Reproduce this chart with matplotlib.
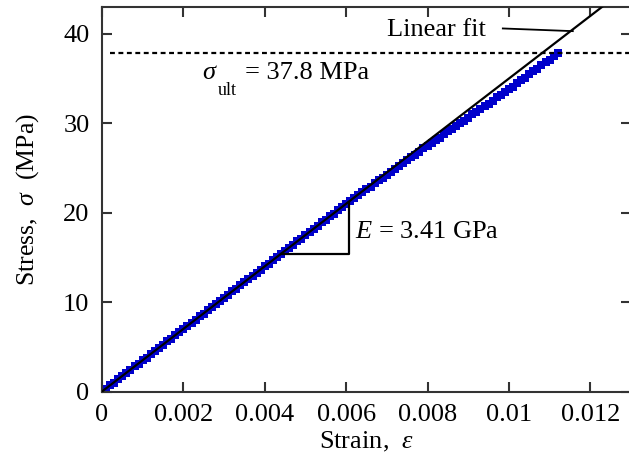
import matplotlib
matplotlib.use("Agg")
import matplotlib.pyplot as plt
import numpy as np

plt.rcParams['font.family'] = ['Liberation Serif', 'DejaVu Serif']
plt.rcParams['mathtext.fontset'] = 'custom'
plt.rcParams['mathtext.rm'] = 'Liberation Serif'
plt.rcParams['mathtext.it'] = 'Liberation Serif:italic'

# measured data (strain, stress in MPa)
strain = [
    0.0000, 0.0001, 0.0002, 0.0003, 0.0004, 0.0005, 0.0006, 0.0007, 0.0008, 0.0009,
    0.0010, 0.0011, 0.0012, 0.0013, 0.0014, 0.0015, 0.0016, 0.0017, 0.0018, 0.0019,
    0.0020, 0.0021, 0.0022, 0.0023, 0.0024, 0.0025, 0.0026, 0.0027, 0.0028, 0.0029,
    0.0030, 0.0031, 0.0032, 0.0033, 0.0034, 0.0035, 0.0036, 0.0037, 0.0038, 0.0039,
    0.0040, 0.0041, 0.0042, 0.0043, 0.0044, 0.0045, 0.0046, 0.0047, 0.0048, 0.0049,
    0.0050, 0.0051, 0.0052, 0.0053, 0.0054, 0.0055, 0.0056, 0.0057, 0.0058, 0.0059,
    0.0060, 0.0061, 0.0062, 0.0063, 0.0064, 0.0065, 0.0066, 0.0067, 0.0068, 0.0069,
    0.0070, 0.0071, 0.0072, 0.0073, 0.0074, 0.0075, 0.0076, 0.0077, 0.0078, 0.0079,
    0.0080, 0.0081, 0.0082, 0.0083, 0.0084, 0.0085, 0.0086, 0.0087, 0.0088, 0.0089,
    0.0090, 0.0091, 0.0092, 0.0093, 0.0094, 0.0095, 0.0096, 0.0097, 0.0098, 0.0099,
    0.0100, 0.0101, 0.0102, 0.0103, 0.0104, 0.0105, 0.0106, 0.0107, 0.0108, 0.0109,
    0.0110, 0.0111, 0.0112,
]
stress = [
    0.0, 0.3, 0.7, 1.0, 1.4, 1.7, 2.1, 2.4, 2.8, 3.1,
    3.5, 3.8, 4.2, 4.5, 4.9, 5.2, 5.6, 5.9, 6.3, 6.6,
    7.0, 7.3, 7.7, 8.0, 8.4, 8.7, 9.1, 9.4, 9.8, 10.1,
    10.5, 10.8, 11.2, 11.5, 11.9, 12.2, 12.6, 12.9, 13.3, 13.6,
    14.0, 14.3, 14.7, 15.0, 15.4, 15.7, 16.1, 16.4, 16.8, 17.1,
    17.5, 17.8, 18.2, 18.5, 18.9, 19.2, 19.6, 19.9, 20.3, 20.6,
    21.0, 21.3, 21.6, 22.0, 22.3, 22.6, 22.9, 23.3, 23.6, 23.9,
    24.2, 24.6, 24.9, 25.2, 25.5, 25.9, 26.2, 26.5, 26.8, 27.2,
    27.5, 27.8, 28.1, 28.4, 28.8, 29.1, 29.4, 29.7, 30.0, 30.3,
    30.6, 31.0, 31.3, 31.6, 31.9, 32.2, 32.5, 32.9, 33.2, 33.5,
    33.8, 34.1, 34.5, 34.8, 35.1, 35.5, 35.8, 36.1, 36.5, 36.8,
    37.1, 37.5, 37.8,
]

fit_strain = [0.0, 0.0126]
fit_stress = [0.0, 44.1]
sigma_ult = 37.8
tri_strain = [0.0044, 0.00606, 0.00606]
tri_stress = [15.4, 15.4, 21.2]
xticks = [0, 0.002, 0.004, 0.006, 0.008, 0.01, 0.012]
xticklabels = ['0', '0.002', '0.004', '0.006', '0.008', '0.01', '0.012']
yticks = [0, 10, 20, 30, 40]

fig = plt.figure(figsize=(6.29, 4.61), dpi=100)
ax = fig.add_axes([102/629, 69.5/461, 529/629, 384.5/461])

ax.plot(strain, stress, 's', color='#0000cc', markersize=6, markeredgewidth=0, zorder=2)
ax.plot(fit_strain, fit_stress, color='black', lw=1.6, zorder=3)
ax.plot([0.0002, 0.013], [sigma_ult, sigma_ult], color='black', lw=1.6,
        dashes=(2.2, 1.6), zorder=3)
ax.plot(tri_strain, tri_stress, color='black', lw=1.6, zorder=3)
ax.plot([0.00985, 0.01157], [40.6, 40.3], color='black', lw=1.3, zorder=3)

fs = 19
ax.text(0.0070, 40.4, 'Linear fit', fontsize=fs, ha='left', va='center')
ax.text(0.00246, 34.95, r'$\sigma$', fontsize=fs, ha='left', va='baseline')
ax.text(0.00284, 33.2, 'ult', fontsize=13, ha='left', va='baseline')
ax.text(0.00351, 34.95, '= 37.8 MPa', fontsize=fs, ha='left', va='baseline')
ax.text(0.00622, 17.8, r'$E$ = 3.41 GPa', fontsize=fs, ha='left', va='center')

ax.set_xlim(0, 0.013)
ax.set_ylim(0, 43)
ax.set_xticks(xticks)
ax.set_xticklabels(xticklabels)
ax.set_yticks(yticks)
ax.tick_params(direction='in', length=7, width=1.5, top=True, right=True,
               labelsize=fs, colors='#333333', labelcolor='black', pad=9)
for s in ax.spines.values():
    s.set_linewidth(1.5)
    s.set_color('#333333')

ax.set_xlabel(r'Strain,  $\varepsilon$', fontsize=fs, labelpad=3)
ax.set_ylabel(r'Stress,  $\sigma$  (MPa)', fontsize=18.5, labelpad=16)

fig.savefig('out.png', dpi=100)
